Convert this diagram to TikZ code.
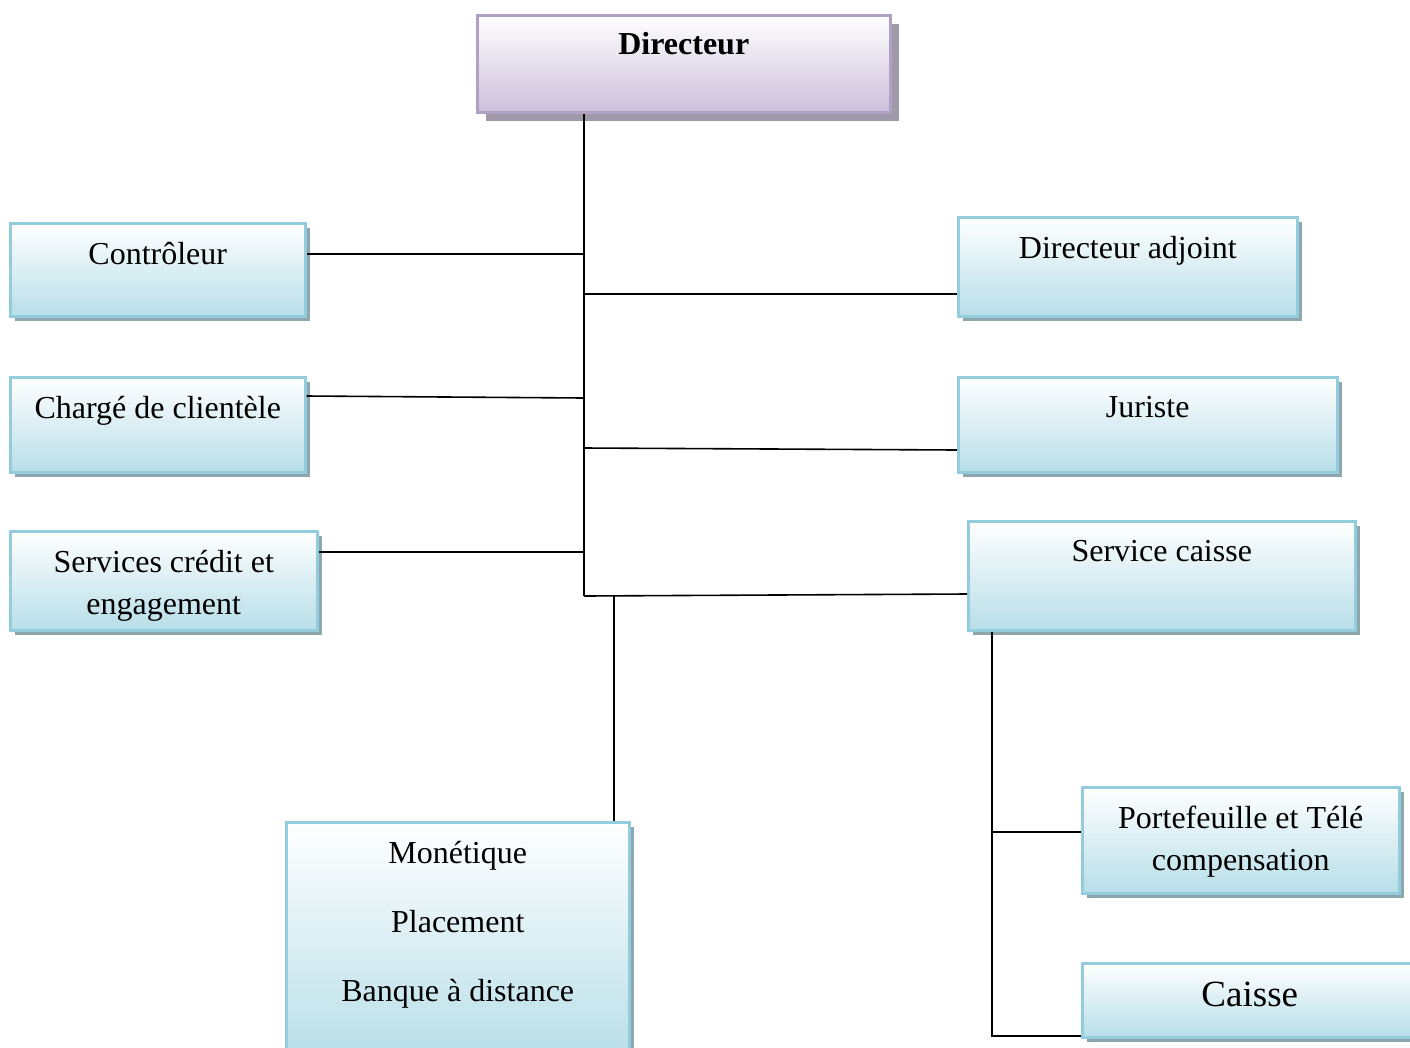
\documentclass[tikz,border=0pt]{standalone}
\usepackage{fontspec}
\setmainfont{Liberation Serif}
\usetikzlibrary{shadows}
\definecolor{bb}{RGB}{147, 205, 221}
\definecolor{ff}{RGB}{183, 222, 232}
\definecolor{ss}{RGB}{142, 166, 174}
\definecolor{pp}{RGB}{178, 161, 199}
\definecolor{pl}{RGB}{204, 192, 218}
\definecolor{ps}{RGB}{160, 153, 170}
\begin{document}
\begin{tikzpicture}[
  box/.style={rectangle, draw=bb, line width=2.5pt, top color=white, bottom color=ff, anchor=north west, inner sep=0pt, general shadow={fill=ss, shadow xshift=5pt, shadow yshift=-5pt}},
  topbox/.style={rectangle, draw=pp, line width=2.5pt, top color=white, bottom color=pl, anchor=north west, inner sep=0pt, general shadow={fill=ps, shadow xshift=9pt, shadow yshift=-9pt}},
  lbl/.style={anchor=north, yshift=-20pt, align=center, inner sep=0pt, font=\fontsize{32}{42}\selectfont},
  link/.style={line width=1.6pt, color=black}]
\useasboundingbox (0pt,0pt) rectangle (1410pt,-1047pt);
\node (dir) [topbox, minimum width=413pt, minimum height=97pt, label={[lbl, yshift=2pt, font=\fontsize{32}{42}\selectfont\bfseries]north:Directeur}] at (476pt, -14pt) {};
\node (ctrl) [box, minimum width=295pt, minimum height=93pt, label={[lbl]north:Contrôleur}] at (9pt, -222pt) {};
\node (charge) [box, minimum width=295pt, minimum height=95pt, label={[lbl]north:Chargé de clientèle}] at (9pt, -376pt) {};
\node (credit) [box, minimum width=307pt, minimum height=99pt, label={[lbl]north:Services crédit et\\engagement}] at (9pt, -530pt) {};
\node (adj) [box, minimum width=339pt, minimum height=99pt, label={[lbl]north:Directeur adjoint}] at (957pt, -216pt) {};
\node (jur) [box, minimum width=379pt, minimum height=95pt, label={[lbl]north:Juriste}] at (957pt, -376pt) {};
\node (svc) [box, minimum width=387pt, minimum height=109pt, label={[lbl]north:Service caisse}] at (967pt, -520pt) {};
\node (porte) [box, minimum width=317pt, minimum height=106pt, label={[lbl]north:Portefeuille et Télé\\compensation}] at (1081pt, -786pt) {};
\node (caisse) [box, minimum width=335pt, minimum height=74pt, label={[lbl, font=\fontsize{37}{44}\selectfont]north:Caisse}] at (1081pt, -962pt) {};
\node (mon) [box, minimum width=343pt, minimum height=240pt, label={[lbl, font=\fontsize{32}{69}\selectfont]north:Monétique\\Placement\\Banque à distance}] at (285pt, -821pt) {};
\coordinate (top) at ([xshift=108pt]dir.south west);
\coordinate (bot) at (584pt, -596pt);
\coordinate (low) at (992pt, -1036pt);
\draw [link] (top) to (bot);
\draw [link] ([yshift=-32pt]ctrl.north east) to (top |- {(0pt,-254pt)});
\draw [link] (top |- {(0pt,-294pt)}) to ([yshift=-78pt]adj.north west);
\draw [link] ([yshift=-20pt]charge.north east) to (top |- {(0pt,-398pt)});
\draw [link] (top |- {(0pt,-448pt)}) to ([yshift=-74pt]jur.north west);
\draw [link] ([yshift=-22pt]credit.north east) to (top |- {(0pt,-552pt)});
\draw [link] (bot) to ([yshift=-74pt]svc.north west);
\draw [link] ([xshift=30pt]bot) to ([xshift=329pt]mon.north west);
\draw [link] ([xshift=25pt]svc.south west) to (low) to (low -| caisse.west);
\draw [link] (low |- {(0pt,-832pt)}) to ([yshift=-46pt]porte.north west);
\end{tikzpicture}
\end{document}
